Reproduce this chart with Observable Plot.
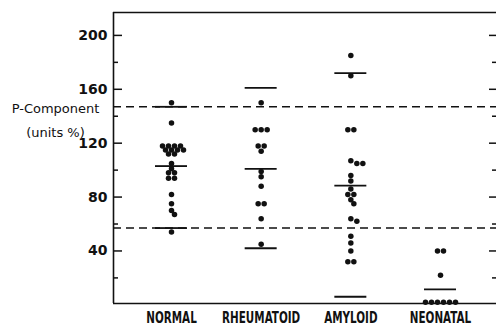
<!DOCTYPE html>
<html>
<head>
<meta charset="utf-8">
<script src="https://cdn.jsdelivr.net/npm/d3@7"></script>
<script src="https://cdn.jsdelivr.net/npm/@observablehq/plot@0.6"></script>
<style>
  html, body { margin: 0; padding: 0; background: #fff; }
  #chart svg { display: block; }
  [aria-label^="y-axis"] text { font-family: "DejaVu Sans", sans-serif; font-size: 14px; font-weight: 600; fill: #111; }
  [aria-label^="x-axis"] text { font-family: "DejaVu Sans", sans-serif; font-size: 15.5px; font-weight: 600; fill: #111; }
</style>
</head>
<body>
<div id="chart"></div>
<script>
// ---- data ----
const groups = ["NORMAL", "RHEUMATOID", "AMYLOID", "NEONATAL"];
const normal = [150, 135, 118, 118, 118, 118, 115, 115, 115, 115, 112, 112, 105, 101, 98, 98, 94, 94, 82, 75, 70, 67, 54];
const rheumatoid = [150, 130, 130, 130, 118, 118, 114, 99, 95, 88, 75, 75, 64, 45];
const amyloid = [185, 170, 130, 130, 107, 105, 105, 96, 92, 86, 82, 82, 78, 75, 64, 62, 51, 46, 40, 32, 32];
const neonatal = [40, 40, 22, 2, 2, 2, 2, 2, 2];
const upperBar = [147, 161, 172, null];
const meanBar = [103, 101, 88.5, 11.5];
const lowerBar = [57, 42, 6, null];
const normalRange = [57, 147];
const yTicks = [40, 80, 120, 160, 200];
const yMinorTicks = [20, 60, 100, 140, 180];
const yLabel = "P-Component\n(units %)";

// ---- layout ----
const W = 496, H = 327, mL = 113, mR = 0, mT = 12, mB = 24;
const firstCenter = 171, step = 89.67; // px
const xDomain = [(mL - firstCenter) / step, (W - mR - firstCenter) / step];
const yDomain = [1, 217];
const pxPerY = (H - mT - mB) / (yDomain[1] - yDomain[0]);
const series = [normal, rheumatoid, amyloid, neonatal];

// simple symmetric beeswarm (offsets in px), computed from the values
function swarm(values, spacing = 6, thr = 4.6) {
  const sorted = values.slice().sort((a, b) => b - a);
  const rows = d3.groups(sorted, v => v);
  const placed = [];
  for (const [v, arr] of rows) {
    const n = arr.length;
    const base = d3.range(n).map(k => (k - (n - 1) / 2) * spacing);
    const shifts = [0, spacing / 2, -spacing / 2, spacing, -spacing, 1.5 * spacing, -1.5 * spacing];
    let chosen = 0;
    for (const s of shifts) {
      const ok = base.every(o => placed.every(p => Math.hypot(p.off - (o + s), (p.v - v) * pxPerY) >= thr));
      if (ok) { chosen = s; break; }
    }
    base.forEach(o => placed.push({v, off: o + chosen}));
  }
  return placed;
}

const dots = series.flatMap((vals, i) => swarm(vals).map(d => ({x: i + d.off / step, y: d.v})));
const hw = 16 / step;
const bars = (arr, kind) => arr.map((v, i) => ({i, v, kind})).filter(d => d.v != null);
const barData = [...bars(upperBar, "range"), ...bars(meanBar, "mean"), ...bars(lowerBar, "range")];

const leftMajor = 9 / step, leftMinor = 5 / step, rightMajor = 7 / step, rightMinor = 4 / step;

const chart = Plot.plot({
  width: W, height: H,
  marginLeft: mL, marginRight: mR, marginTop: mT, marginBottom: mB,
  style: {background: "#fff", color: "#111", overflow: "visible"},
  x: {domain: xDomain, ticks: [0, 1, 2, 3], tickFormat: i => groups[i], tickSize: 0, tickPadding: 8, label: null},
  y: {domain: yDomain, ticks: yTicks, tickSize: 0, tickPadding: 6, label: null},
  marks: [
    // normal range dashed lines
    Plot.ruleY(normalRange, {stroke: "#111", strokeWidth: 1.5, strokeDasharray: "8,5"}),
    // frame: top, bottom, left
    Plot.ruleY([yDomain[0], yDomain[1]], {stroke: "#111", strokeWidth: 1.6}),
    Plot.ruleX([xDomain[0]], {stroke: "#111", strokeWidth: 1.6}),
    // left ticks (inward)
    Plot.ruleY(yTicks, {x1: xDomain[0], x2: xDomain[0] + leftMajor, stroke: "#111", strokeWidth: 1.5}),
    Plot.ruleY(yMinorTicks, {x1: xDomain[0], x2: xDomain[0] + leftMinor, stroke: "#111", strokeWidth: 1.5}),
    // right ticks (inward)
    Plot.ruleY(yTicks, {x1: xDomain[1] - rightMajor, x2: xDomain[1], stroke: "#111", strokeWidth: 1.5}),
    Plot.ruleY(yMinorTicks, {x1: xDomain[1] - rightMinor, x2: xDomain[1], stroke: "#111", strokeWidth: 1.5}),
    // group bars
    Plot.ruleY(barData, {y: "v", x1: d => d.i - hw, x2: d => d.i + hw, stroke: "#111", strokeWidth: 1.8}),
    // points
    Plot.dot(dots, {x: "x", y: "y", r: 2.75, fill: "#111", stroke: "none"}),
    // y label
    Plot.text([yLabel], {frameAnchor: "left", dx: -58, dy: -41, textAnchor: "middle", lineHeight: 1.85,
      fontSize: 13, fontFamily: "DejaVu Sans, sans-serif", fill: "#111"})
  ]
});
// condense the category labels (the reference uses a narrow typeface)
d3.select(chart).selectAll('[aria-label^="x-axis"] text').each(function () {
  const t = this.getAttribute("transform");
  this.setAttribute("transform", (t ? t + " " : "") + "scale(0.67,1)");
});
document.getElementById("chart").appendChild(chart);
</script>
</body>
</html>
